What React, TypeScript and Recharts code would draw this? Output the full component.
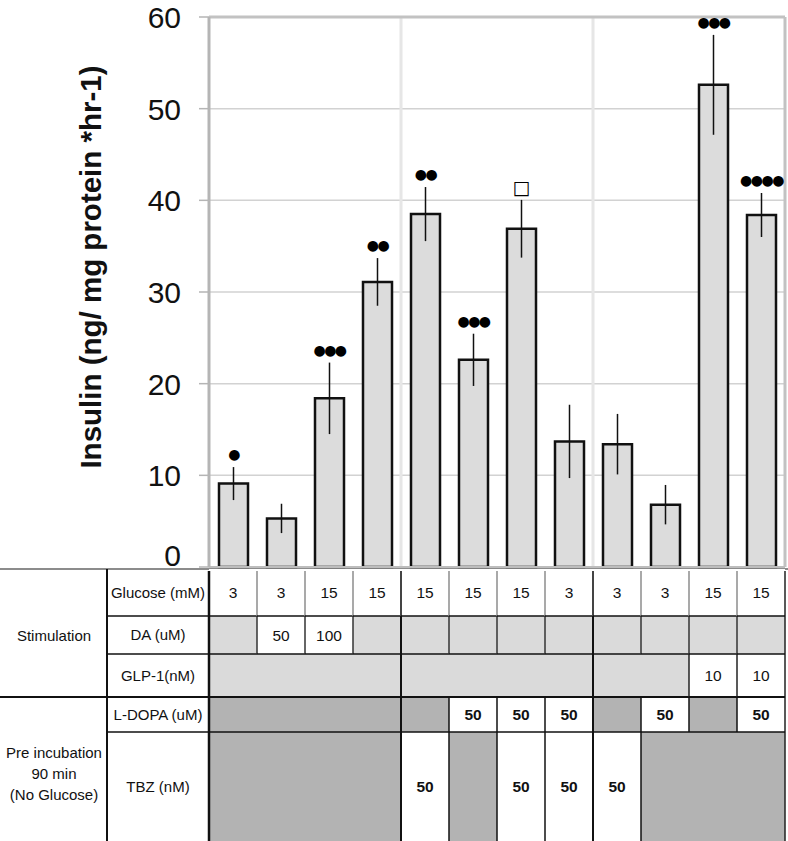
import React from 'react';
import { BarChart, Bar, XAxis, YAxis, CartesianGrid, ErrorBar, LabelList, ReferenceLine, Label } from 'recharts';

const conditions = ['C1', 'C2', 'C3', 'C4', 'C5', 'C6', 'C7', 'C8', 'C9', 'C10', 'C11', 'C12'];
const insulin = [9.1, 5.3, 18.4, 31.1, 38.5, 22.6, 36.9, 13.7, 13.4, 6.8, 52.6, 38.4];
const sem = [1.8, 1.6, 3.9, 2.6, 2.95, 2.85, 3.15, 4.0, 3.3, 2.15, 5.45, 2.4];
const marks = ['●', '', '●●●', '●●', '●●', '●●●', '□', '', '', '', '●●●', '●●●●'];
const yTicks = [0, 10, 20, 30, 40, 50, 60];

const glucose = ['3', '3', '15', '15', '15', '15', '15', '3', '3', '3', '15', '15'];
const da = ['', '50', '100', '', '', '', '', '', '', '', '', ''];
const glp1 = ['', '', '', '', '', '', '', '', '', '', '10', '10'];
const ldopa = ['', '', '', '', '', '50', '50', '50', '', '50', '', '50'];
const tbz = ['', '', '', '', '50', '', '50', '50', '50', '', '', ''];

const data = conditions.map((c, i) => ({ id: c, value: insulin[i], err: sem[i], mark: marks[i] }));

const FONT = '"Liberation Sans", Arial, sans-serif';
const LIGHT = '#dadada';
const DARK = '#b3b3b3';
const BAND = 48;
const GROUP = 4;

const rows = [
  { label: 'Glucose (mM)', values: glucose, top: 569, bottom: 616, shade: '#ffffff', merge: false, bold: false, sep: '#8c8c8c' },
  { label: 'DA (uM)', values: da, top: 616, bottom: 654, shade: LIGHT, merge: false, bold: false, sep: '#333' },
  { label: 'GLP-1(nM)', values: glp1, top: 654, bottom: 697, shade: LIGHT, merge: true, bold: false, sep: '#222' },
  { label: 'L-DOPA (uM)', values: ldopa, top: 697, bottom: 732, shade: DARK, merge: true, bold: true, sep: '#111' },
  { label: 'TBZ (nM)', values: tbz, top: 732, bottom: 841, shade: DARK, merge: true, bold: true, sep: '#111' },
];

const LeftColumns = () => (
  <g>
    <line x1={0} x2={788} y1={569} y2={569} stroke="#666" strokeWidth={1.5} />
    <line x1={0} x2={209} y1={697} y2={697} stroke="#111" strokeWidth={2} />
    {[616, 654, 732].map((yy) => (
      <line key={yy} x1={107} x2={209} y1={yy} y2={yy} stroke="#111" strokeWidth={1.5} />
    ))}
    <line x1={107} x2={107} y1={569} y2={841} stroke="#111" strokeWidth={2} />
    <text x={54} y={641} textAnchor="middle" fontFamily={FONT} fontSize={15} fill="#111">Stimulation</text>
    <text x={54} y={758} textAnchor="middle" fontFamily={FONT} fontSize={15} fill="#111">Pre incubation</text>
    <text x={54} y={779} textAnchor="middle" fontFamily={FONT} fontSize={15} fill="#111">90 min</text>
    <text x={54} y={800} textAnchor="middle" fontFamily={FONT} fontSize={15} fill="#111">(No Glucose)</text>
    {rows.map((r) => (
      <text key={r.label} x={158} y={(r.top + r.bottom) / 2 + 5} textAnchor="middle" fontFamily={FONT} fontSize={15} fill="#111">
        {r.label}
      </text>
    ))}
  </g>
);

const TableTick = (props: any) => {
  const { x, index } = props;
  const left = x - BAND / 2;
  const right = x + BAND / 2;
  return (
    <g>
      {index === 0 && <LeftColumns />}
      {rows.map((r, ri) => {
        const v = r.values[index];
        const fill = v !== '' ? '#ffffff' : r.shade;
        return <rect key={'f' + ri} x={left} y={r.top} width={BAND} height={r.bottom - r.top} fill={fill} />;
      })}
      {rows.map((r, ri) => {
        const v = r.values[index];
        if (v === '') return null;
        return (
          <text key={'t' + ri} x={x} y={(r.top + r.bottom) / 2 + 5.5} textAnchor="middle" fontFamily={FONT}
            fontSize={15.5} fontWeight={r.bold ? 'bold' : 'normal'} fill="#111">
            {v}
          </text>
        );
      })}
      {rows.map((r, ri) => {
        let show = true;
        let color = r.sep;
        let w = 1.5;
        if (index === 0) {
          color = '#111';
          w = 2.5;
        } else if (index % GROUP === 0) {
          color = ri === 0 ? '#444' : '#111';
          w = 2;
        } else if (r.merge && r.values[index] === '' && r.values[index - 1] === '') {
          show = false;
        }
        if (!show) return null;
        return <line key={'s' + ri} x1={left} x2={left} y1={r.top + (ri === 0 ? 2 : 0)} y2={r.bottom} stroke={color} strokeWidth={w} />;
      })}
      {index === conditions.length - 1 && (
        <line x1={right} x2={right} y1={571} y2={841} stroke="#222" strokeWidth={1.5} />
      )}
      <line x1={left} x2={right} y1={616} y2={616} stroke="#111" strokeWidth={1.5} />
      <line x1={left} x2={right} y1={654} y2={654} stroke="#111" strokeWidth={1.5} />
      <line x1={left} x2={right} y1={697} y2={697} stroke="#111" strokeWidth={2} />
      <line x1={left} x2={right} y1={732} y2={732} stroke="#111" strokeWidth={1.5} />
    </g>
  );
};

const YTick = (props: any) => {
  const { x, y, payload } = props;
  const shift = payload.value === 0 ? -12 : 0;
  return (
    <text x={x} y={y + shift} dy={11} textAnchor="end" fontFamily={FONT} fontSize={30} fill="#111">
      {payload.value}
    </text>
  );
};

const renderMark = (props: any) => {
  const { x, y, width, height, index } = props;
  const d = data[index];
  if (!d || !d.mark) return null;
  const pxPerUnit = height / d.value;
  const top = y - d.err * pxPerUnit;
  const cx = x + width / 2;
  const isSquare = d.mark === '□';
  return (
    <text x={cx} y={top - (isSquare ? 6 : 8)} textAnchor="middle" fontFamily='"DejaVu Sans", sans-serif'
      fontSize={isSquare ? 19 : 14} letterSpacing={isSquare ? 0 : -1.5} fill="#000">
      {d.mark}
    </text>
  );
};

const renderYLabel = (props: any) => {
  const vb = props.viewBox || { x: 0, y: 17, width: 209, height: 550 };
  const cx = vb.x + 90;
  const cy = vb.y + vb.height / 2 - 25;
  return (
    <text x={cx} y={cy} transform={`rotate(-90, ${cx}, ${cy})`} textAnchor="middle" dominantBaseline="central"
      fontFamily={FONT} fontWeight="bold" fontSize={29.5} fill="#111">
      Insulin (ng/ mg protein *hr-1)
    </text>
  );
};

export default function App() {
  return (
    <div style={{ position: 'absolute', left: 0, top: 0, width: 788, height: 841, background: '#fff' }}>
      <BarChart width={788} height={841} data={data} margin={{ top: 17, right: 3, bottom: 0, left: 0 }} style={{ overflow: 'visible' }}>
        <CartesianGrid vertical={false} stroke="#d2d2d2" strokeWidth={1.5} />
        <ReferenceLine x={conditions[4]} position="start" stroke="#e6e6e6" strokeWidth={3} />
        <ReferenceLine x={conditions[8]} position="start" stroke="#e6e6e6" strokeWidth={3} />
        <ReferenceLine y={60} stroke="#c2c2c2" strokeWidth={3} />
        <ReferenceLine x={conditions[11]} position="end" stroke="#c2c2c2" strokeWidth={3} />
        <XAxis dataKey="id" height={274} interval={0} tickLine={false} axisLine={{ stroke: '#bdbdbd', strokeWidth: 2 }}
          tick={(p: any) => <TableTick {...p} />} />
        <YAxis width={209} domain={[0, 60]} ticks={yTicks} interval={0} tickSize={10} tickMargin={18}
          tickLine={{ stroke: '#b5b5b5', strokeWidth: 1.5 }} axisLine={{ stroke: '#b5b5b5', strokeWidth: 3 }}
          tick={(p: any) => <YTick {...p} />}>
          <Label content={renderYLabel} />
        </YAxis>
        <Bar dataKey="value" barSize={29} fill="#dcdcdc" stroke="#111" strokeWidth={2.5} isAnimationActive={false}>
          <ErrorBar dataKey="err" width={0} stroke="#111" strokeWidth={1.5} direction="y" />
          <LabelList dataKey="mark" content={renderMark} />
        </Bar>
      </BarChart>
    </div>
  );
}
